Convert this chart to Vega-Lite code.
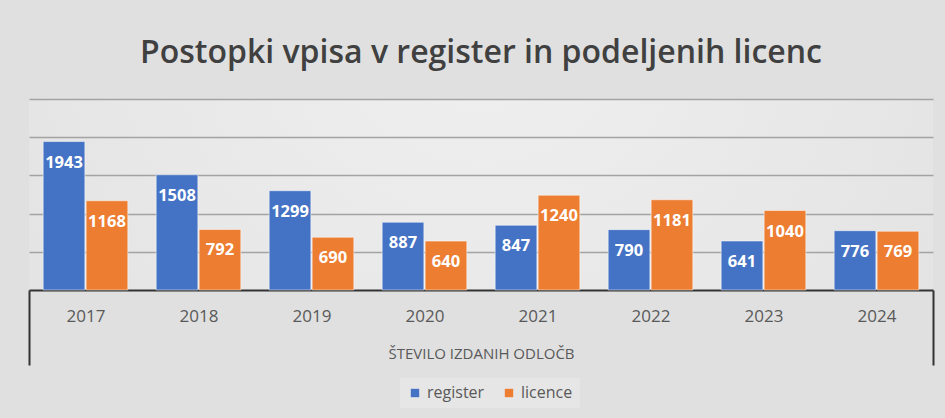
{
  "$schema": "https://vega.github.io/schema/vega-lite/v6.json",
  "width": 904,
  "height": 191,
  "autosize": {"type": "none"},
  "padding": {"left": 29, "top": 99, "right": 12, "bottom": 128},
  "background": "#e0e0e0",
  "title": {
    "text": "Postopki vpisa v register in podeljenih licenc",
    "fontSize": 32,
    "font": "Open Sans",
    "fontWeight": 600,
    "color": "#404040",
    "anchor": "middle",
    "offset": 29
  },
  "data": {
    "values": [
      {"leto": "2017", "serija": "register", "vrednost": 1943},
      {"leto": "2017", "serija": "licence", "vrednost": 1168},
      {"leto": "2018", "serija": "register", "vrednost": 1508},
      {"leto": "2018", "serija": "licence", "vrednost": 792},
      {"leto": "2019", "serija": "register", "vrednost": 1299},
      {"leto": "2019", "serija": "licence", "vrednost": 690},
      {"leto": "2020", "serija": "register", "vrednost": 887},
      {"leto": "2020", "serija": "licence", "vrednost": 640},
      {"leto": "2021", "serija": "register", "vrednost": 847},
      {"leto": "2021", "serija": "licence", "vrednost": 1240},
      {"leto": "2022", "serija": "register", "vrednost": 790},
      {"leto": "2022", "serija": "licence", "vrednost": 1181},
      {"leto": "2023", "serija": "register", "vrednost": 641},
      {"leto": "2023", "serija": "licence", "vrednost": 1040},
      {"leto": "2024", "serija": "register", "vrednost": 776},
      {"leto": "2024", "serija": "licence", "vrednost": 769}
    ]
  },
  "encoding": {
    "x": {
      "field": "leto",
      "type": "nominal",
      "scale": {"paddingInner": 0, "paddingOuter": 0},
      "axis": {
        "title": "ŠTEVILO IZDANIH ODLOČB",
        "titleY": 63,
        "titleBaseline": "middle",
        "titleFontSize": 15,
        "titleFontWeight": "normal",
        "titleColor": "#595959",
        "labelAngle": 0,
        "labelFontSize": 17,
        "labelColor": "#595959",
        "labelBaseline": "middle",
        "labelPadding": -49,
        "domainColor": "#333333",
        "domainWidth": 2,
        "tickBand": "extent",
        "tickSize": 75,
        "tickWidth": 2,
        "tickColor": "#333333",
        "tickOpacity": {"condition": {"test": "datum.extra || datum.value === '2024'", "value": 1}, "value": 0}
      }
    },
    "xOffset": {
      "field": "serija",
      "type": "nominal",
      "scale": {"domain": ["register", "licence"], "paddingInner": 0.03, "paddingOuter": 0.33}
    },
    "y": {
      "field": "vrednost",
      "type": "quantitative",
      "scale": {"domain": [0, 2500]},
      "axis": {
        "title": null,
        "labels": false,
        "ticks": false,
        "domain": false,
        "grid": true,
        "values": [500, 1000, 1500, 2000, 2500],
        "gridColor": "#a3a3a3",
        "gridWidth": 1.5
      }
    }
  },
  "layer": [
    {
      "mark": {"type": "bar", "stroke": "#ffffff", "strokeWidth": 1, "strokeOpacity": 0.5},
      "encoding": {
        "color": {
          "field": "serija",
          "type": "nominal",
          "scale": {"domain": ["register", "licence"], "range": ["#4472C4", "#ED7D31"]},
          "legend": {
            "title": null,
            "orient": "none",
            "legendX": 371,
            "legendY": 279,
            "direction": "horizontal",
            "symbolType": "square",
            "symbolSize": 70,
            "symbolStrokeWidth": 0,
            "labelFontSize": 16,
            "labelColor": "#595959",
            "fillColor": "#e6e6e6",
            "padding": 7,
            "columnPadding": 16
          }
        }
      }
    },
    {
      "mark": {"type": "text", "dy": 21, "baseline": "middle", "fontWeight": "bold", "fontSize": 16.5, "color": "#ffffff"},
      "encoding": {"text": {"field": "vrednost", "type": "quantitative"}}
    }
  ],
  "config": {
    "view": {
      "stroke": null,
      "fill": {
        "gradient": "radial",
        "x1": 0.5, "y1": 0.3, "x2": 0.5, "y2": 0.3,
        "r1": 0, "r2": 0.75,
        "stops": [
          {"offset": 0, "color": "#f0f0f0"},
          {"offset": 1, "color": "#e0e0e0"}
        ]
      }
    },
    "font": "Open Sans"
  }
}
